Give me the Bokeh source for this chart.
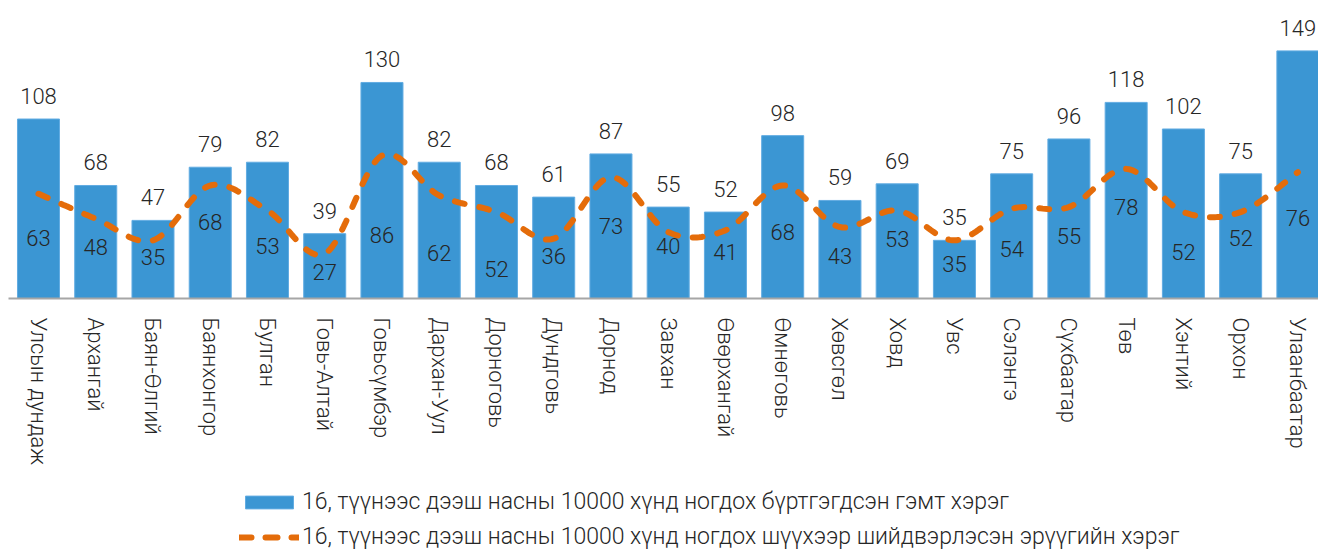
import numpy as np
from bokeh.plotting import figure
from bokeh.layouts import column
from bokeh.models import (ColumnDataSource, Range1d, FixedTicker, Legend, LegendItem)
from bokeh.core.properties import value
from bokeh.embed import file_html
from bokeh.resources import INLINE

categories = ["Улсын дундаж", "Архангай", "Баян-Өлгий", "Баянхонгор", "Булган",
              "Говь-Алтай", "Говьсүмбэр", "Дархан-Уул", "Дорноговь", "Дундговь",
              "Дорнод", "Завхан", "Өвөрхангай", "Өмнөговь", "Хөвсгөл", "Ховд",
              "Увс", "Сэлэнгэ", "Сүхбаатар", "Төв", "Хэнтий", "Орхон", "Улаанбаатар"]
crimes = [108, 68, 47, 79, 82, 39, 130, 82, 68, 61, 87, 55, 52, 98, 59, 69, 35, 75, 96, 118, 102, 75, 149]
court_crimes = [63, 48, 35, 68, 53, 27, 86, 62, 52, 36, 73, 40, 41, 68, 43, 53, 35, 54, 55, 78, 52, 52, 76]
# vertical placement of the line's data labels (value units)
court_label_pos = [36.7, 30.7, 24.7, 46.3, 31.3, 16.2, 38.3, 27.1, 17.7, 25.7, 43.7, 31.3,
                   27.7, 40.1, 25.7, 35.7, 20.7, 29.7, 37.7, 54.8, 27.7, 36.3, 48.7]

legend_bar = "16, түүнээс дээш насны 10000 хүнд ногдох бүртгэгдсэн гэмт хэрэг"
legend_line = "16, түүнээс дээш насны 10000 хүнд ногдох шүүхээр шийдвэрлэсэн эрүүгийн хэрэг"

FONT = "Roboto Light"
TXT = "#262626"
BAR = "#3b96d3"
BAR_EDGE = "#62ace2"
LINE = "#e46c0a"
LINE_W = 6
LINE_DASH = "10 15"

idx = list(range(len(categories)))

# smoothed curve (Catmull-Rom -> cubic Bezier), like a spreadsheet "smoothed line"
def smooth(xs, ys, n=24):
    xs = np.asarray(xs, float); ys = np.asarray(ys, float)
    px = np.concatenate([[xs[0]], xs, [xs[-1]]])
    py = np.concatenate([[ys[0]], ys, [ys[-1]]])
    ox, oy = [], []
    for i in range(1, len(px) - 2):
        p0 = np.array([px[i - 1], py[i - 1]]); p1 = np.array([px[i], py[i]])
        p2 = np.array([px[i + 1], py[i + 1]]); p3 = np.array([px[i + 2], py[i + 2]])
        c1 = p1 + (p2 - p0) / 6.0
        c2 = p2 - (p3 - p1) / 6.0
        t = np.linspace(0, 1, n, endpoint=(i == len(px) - 3))
        b = ((1 - t) ** 3)[:, None] * p1 + (3 * (1 - t) ** 2 * t)[:, None] * c1 \
            + (3 * (1 - t) * t ** 2)[:, None] * c2 + (t ** 3)[:, None] * p2
        ox.extend(b[:, 0]); oy.extend(b[:, 1])
    return ox, oy

sx, sy = smooth(idx, court_crimes)

p = figure(width=1318, height=475, output_backend="svg", toolbar_location=None,
           x_range=Range1d(-0.524, 22.36), y_range=Range1d(0, 174.5),
           min_border_left=8, min_border_right=0, min_border_top=8, min_border_bottom=177)
p.outline_line_color = None
p.xgrid.visible = False
p.ygrid.visible = False
p.yaxis.visible = False
p.background_fill_color = "white"
p.border_fill_color = "white"

src = ColumnDataSource(dict(x=idx, crimes=crimes, court=court_crimes,
                            court_pos=court_label_pos,
                            crimes_txt=[str(v) for v in crimes],
                            court_txt=[str(v) for v in court_crimes]))
line_src = ColumnDataSource(dict(x=sx, y=sy))

p.vbar(x="x", top="crimes", width=0.734, source=src, fill_color=BAR,
       line_color=BAR_EDGE, line_width=1)
p.line(x="x", y="y", source=line_src, line_color=LINE, line_width=LINE_W,
       line_dash=LINE_DASH, line_cap="round")

p.text(x="x", y="crimes", text="crimes_txt", source=src, text_align="center",
       text_baseline="middle", y_offset=-23, text_font=value(FONT),
       text_font_size="22px", text_color=TXT)
p.text(x="x", y="court_pos", text="court_txt", source=src, text_align="center",
       text_baseline="middle", text_font=value(FONT),
       text_font_size="22px", text_color=TXT)

ax = p.xaxis[0]
ax.ticker = FixedTicker(ticks=idx)
ax.major_label_overrides = {i: c for i, c in enumerate(categories)}
ax.major_label_orientation = "vertical"
ax.major_label_text_font = FONT
ax.major_label_text_font_size = "22px"
ax.major_label_text_color = TXT
ax.major_label_standoff = 13
ax.major_tick_line_color = None
ax.minor_tick_line_color = None
ax.axis_line_color = "#a6a6a6"
ax.axis_line_width = 2

# legend strip below the chart (its series renderers sit outside the visible ranges)
lg = figure(width=1318, height=75, output_backend="svg", toolbar_location=None,
            x_range=Range1d(-1001, -1000), y_range=Range1d(-1001, -1000),
            min_border_left=0, min_border_right=0, min_border_top=0, min_border_bottom=0)
lg.outline_line_color = None
lg.axis.visible = False
lg.grid.visible = False
lg.background_fill_color = "white"
lg.border_fill_color = "white"
r_bar = lg.vbar(x="x", top="crimes", width=0.734, source=src, fill_color=BAR,
                line_color=BAR_EDGE, line_width=1)
r_line = lg.line(x="x", y="y", source=line_src, line_color=LINE, line_width=LINE_W,
                 line_dash="12 14", line_cap="round")
legend = Legend(items=[LegendItem(label=legend_bar, renderers=[r_bar]),
                       LegendItem(label=legend_line, renderers=[r_line])],
                location=(231, 0), orientation="vertical",
                glyph_width=60, glyph_height=16, label_standoff=3, spacing=8,
                padding=0, margin=0, label_height=27,
                label_text_font=FONT, label_text_font_size="23px", label_text_color=TXT,
                border_line_alpha=0, background_fill_alpha=0)
lg.add_layout(legend, "center")

open("out.html", "w").write(file_html(column(p, lg), INLINE))
